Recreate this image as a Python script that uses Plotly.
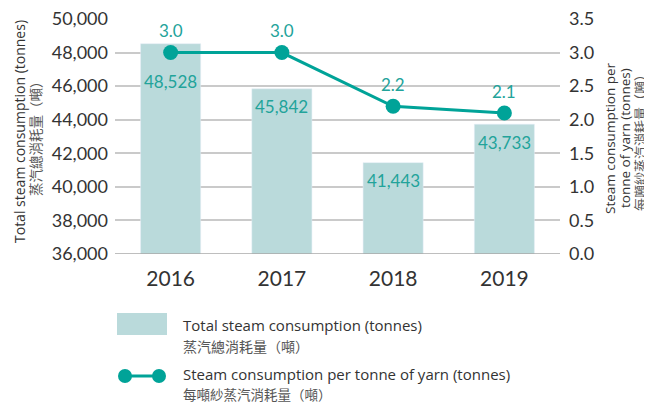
import plotly.graph_objects as go

years = ["2016", "2017", "2018", "2019"]
total_steam = [48528, 45842, 41443, 43733]
per_tonne = [3.0, 3.0, 2.2, 2.1]
left_ticks = [36000, 38000, 40000, 42000, 44000, 46000, 48000, 50000]
right_ticks = [0.0, 0.5, 1.0, 1.5, 2.0, 2.5, 3.0, 3.5]

BAR = "#badadb"
TEAL = "#00a398"
LABEL = "#22a39a"
TXT = "#333333"
CJK = "#555555"
NUMFONT = "Lato, Open Sans, sans-serif"
FONT = "Open Sans, Lato, sans-serif"
CJKFONT = "Noto Sans CJK TC, Noto Sans CJK SC, sans-serif"

fig = go.Figure()
fig.add_trace(go.Bar(x=years, y=total_steam, marker_color=BAR, width=0.54,
                     showlegend=False, hoverinfo="skip"))
fig.add_trace(go.Scatter(x=years, y=per_tonne, yaxis="y2", mode="lines+markers",
                         line=dict(color=TEAL, width=3),
                         marker=dict(color=TEAL, size=15), showlegend=False))

ann = []
for i, v in enumerate(total_steam):
    ann.append(dict(x=i, y=v, xref="x", yref="y", text=f"{v:,}", showarrow=False,
                    yshift=-38 if i == 0 else -18,
                    font=dict(color=LABEL, size=17, family=NUMFONT)))
for i, v in enumerate(per_tonne):
    ann.append(dict(x=i, y=v, xref="x", yref="y2", text=f"{v:.1f}", showarrow=False,
                    yshift=22, font=dict(color=LABEL, size=17, family=NUMFONT)))

# plot area in page pixels: x 115..560, y 19..254
PW, PH, PX, PY = 445.0, 235.0, 115.0, 254.0
px = lambda x: (x - PX) / PW
py = lambda y: (PY - y) / PH

def txt(x, y, s, size, color, family, angle=0, xanchor="center"):
    ann.append(dict(x=x, y=y, xref="paper", yref="paper", text=s, showarrow=False,
                    textangle=angle, xanchor=xanchor, yanchor="middle", borderpad=0,
                    font=dict(size=size, color=color, family=family)))

txt(px(19), py(132), "Total steam consumption (tonnes)", 14, TXT, FONT, -90)
txt(px(35), py(135), "蒸汽總消耗量（噸）", 13.5, CJK, CJKFONT, -90)
txt(px(610), py(138), "Steam consumption per", 13.5, TXT, FONT, -90)
txt(px(625), py(138), "tonne of yarn (tonnes)", 13.5, TXT, FONT, -90)
txt(px(639), py(140), "每噸紗蒸汽消耗量（噸）", 13, CJK, CJKFONT, -90)

# legend (drawn)
shapes = [
    dict(type="rect", xref="paper", yref="paper", x0=px(117), x1=px(167), y0=py(335), y1=py(313),
         fillcolor=BAR, line=dict(width=0)),
    dict(type="line", xref="paper", yref="paper", x0=px(125), x1=px(159), y0=py(376), y1=py(376),
         line=dict(color=TEAL, width=3)),
    dict(type="circle", xref="paper", yref="paper", x0=px(118), x1=px(132), y0=py(383), y1=py(369),
         fillcolor=TEAL, line=dict(width=0)),
    dict(type="circle", xref="paper", yref="paper", x0=px(152), x1=px(166), y0=py(383), y1=py(369),
         fillcolor=TEAL, line=dict(width=0)),
    dict(type="line", xref="paper", yref="y", x0=0, x1=1, y0=36000, y1=36000,
         line=dict(color="#a8a8a8", width=1.5)),
]
txt(px(182), py(325), "Total steam consumption (tonnes)", 15, TXT, FONT, 0, "left")
txt(px(182), py(346), "蒸汽總消耗量（噸）", 14, CJK, CJKFONT, 0, "left")
txt(px(182), py(374), "Steam consumption per tonne of yarn (tonnes)", 15, TXT, FONT, 0, "left")
txt(px(182), py(394), "每噸紗蒸汽消耗量（噸）", 13.5, CJK, CJKFONT, 0, "left")

# page body has an 8px margin: size the figure so it ends at 652x404
fig.update_layout(
    width=644, height=396,
    margin=dict(l=107, r=92, t=11, b=150, autoexpand=False),
    plot_bgcolor="white", paper_bgcolor="white",
    font=dict(family=NUMFONT, color=TXT),
    xaxis=dict(type="category", range=[-0.5, 3.5], showgrid=False, ticks="",
               tickfont=dict(size=21, color=TXT), showline=False,
               ticklabelstandoff=10, automargin=False),
    yaxis=dict(range=[36000, 50000], tickvals=left_ticks, tickformat=",",
               showgrid=True, gridcolor="#cacaca", gridwidth=1.5, zeroline=False,
               tickfont=dict(size=18, color=TXT), ticklabelstandoff=6, automargin=False,
               ticklabeloverflow="allow"),
    yaxis2=dict(range=[0, 3.5], tickvals=right_ticks, tickformat=".1f", overlaying="y",
                side="right", showgrid=False, zeroline=False,
                tickfont=dict(size=18, color=TXT), ticklabelstandoff=8, automargin=False,
                ticklabeloverflow="allow"),
    annotations=ann, shapes=shapes,
)

fig.write_html("out.html")
